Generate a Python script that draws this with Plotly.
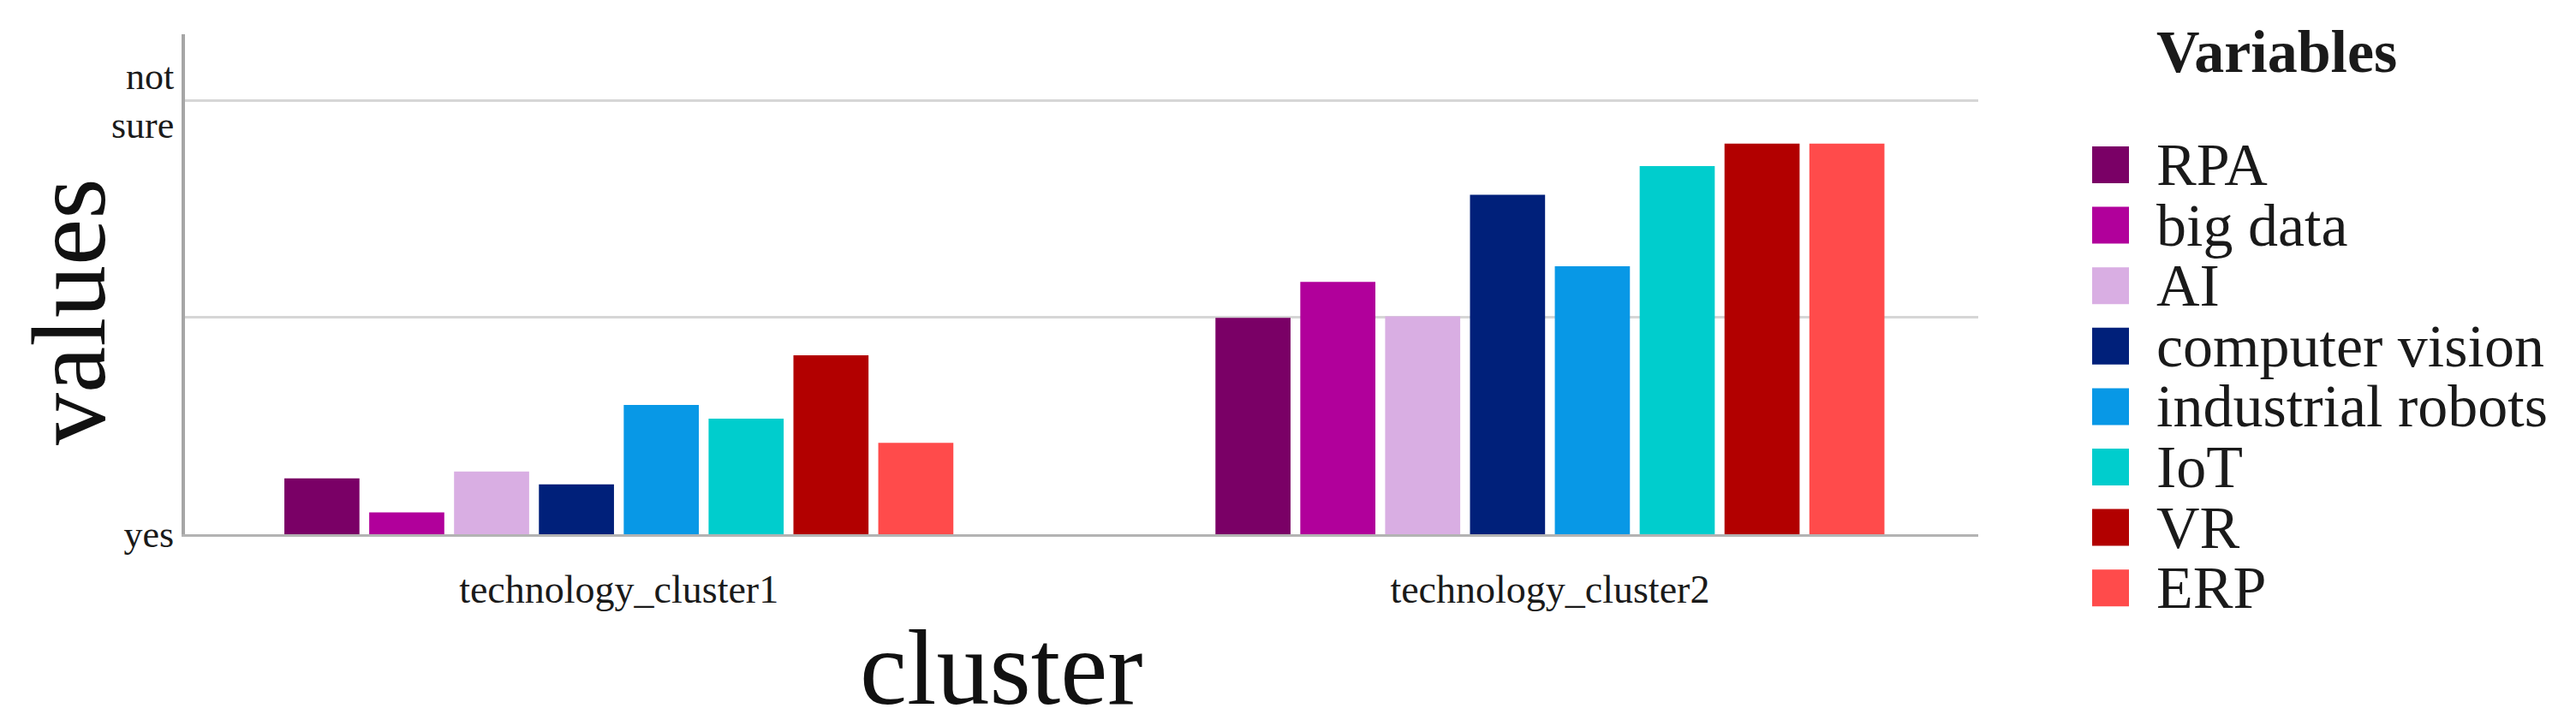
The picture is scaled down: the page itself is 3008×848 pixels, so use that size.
import plotly.graph_objects as go

# ---- data ----
clusters = ["technology_cluster1", "technology_cluster2"]
variables = ["RPA", "big data", "AI", "computer vision",
             "industrial robots", "IoT", "VR", "ERP"]
colors = ["#7a0066", "#b1009b", "#d9aee3", "#00207a",
          "#0898e6", "#00cdcd", "#b20000", "#ff4b4b"]

rpa = [1.257, 1.997]
big_data = [1.101, 2.163]
ai = [1.289, 2.004]
computer_vision = [1.230, 2.564]
industrial_robots = [1.596, 2.235]
iot = [1.533, 2.696]
vr = [1.825, 2.800]
erp = [1.421, 2.800]
series = [rpa, big_data, ai, computer_vision, industrial_robots, iot, vr, erp]

y_tick_values = [1, 2, 3]
y_tick_labels = ["yes", "", "not<br>sure"]
x_title = "cluster"
y_title = "values"
legend_title = "Variables"

# ---- layout geometry (pixels) ----
W, H = 3008, 848
L, R, T, B = 208, 706, 32, 232
PW, PH = W - L - R, H - T - B


def px_x(x):
    return (x - L) / PW


def px_y(y):
    return (H - B - y) / PH


FONT = "Liberation Serif"
TXT = "#1a1a1a"

fig = go.Figure()
for name, vals, col in zip(variables, series, colors):
    fig.add_trace(go.Bar(name=name, x=clusters, y=vals,
                         marker=dict(color=col, line=dict(width=0)),
                         showlegend=False))

# manual legend (large square swatches)
shapes = []
annotations = []
row0, row_step, sw = 184.5, 70.6, 43
for i, (name, col) in enumerate(zip(variables, colors)):
    cy = row0 + i * row_step
    shapes.append(dict(type="rect", xref="paper", yref="paper",
                       x0=px_x(2435), x1=px_x(2478),
                       y0=px_y(cy + sw / 2), y1=px_y(cy - sw / 2),
                       fillcolor=col, line=dict(width=0)))
    annotations.append(dict(text=name, xref="paper", yref="paper",
                            x=px_x(2508), y=px_y(cy), xanchor="left",
                            yanchor="middle", showarrow=False,
                            font=dict(family=FONT, size=70, color=TXT)))
annotations.append(dict(text="<b>" + legend_title + "</b>", xref="paper",
                        yref="paper", x=px_x(2508), y=px_y(53),
                        xanchor="left", yanchor="middle", showarrow=False,
                        font=dict(family=FONT, size=70, color=TXT)))
# axis titles
annotations.append(dict(text=x_title, xref="paper", yref="paper",
                        x=px_x(1161), y=px_y(772), xanchor="center",
                        yanchor="middle", showarrow=False,
                        font=dict(family=FONT, size=124, color="#111111")))
annotations.append(dict(text=y_title, xref="paper", yref="paper",
                        x=px_x(72), y=px_y(356), xanchor="center",
                        yanchor="middle", showarrow=False, textangle=-90,
                        font=dict(family=FONT, size=122, color="#111111")))

fig.update_layout(
    width=W, height=H,
    margin=dict(l=L, r=R, t=T, b=B, autoexpand=False),
    paper_bgcolor="white", plot_bgcolor="white",
    barmode="group", bargap=0.271, bargroupgap=0.115,
    shapes=shapes, annotations=annotations,
    font=dict(family=FONT, color=TXT),
)
fig.update_xaxes(
    type="category", range=[-0.466, 1.46],
    showline=True, linecolor="#b3b3b3", linewidth=3,
    showgrid=False, ticks="", zeroline=False,
    tickfont=dict(family=FONT, size=46, color=TXT),
    ticklabelstandoff=22,
    automargin=False,
)
fig.update_yaxes(
    range=[1, 3.304],
    tickvals=y_tick_values, ticktext=y_tick_labels,
    showline=True, linecolor="#a6a6a6", linewidth=4,
    showgrid=True, gridcolor="#d6d6d6", gridwidth=3,
    zeroline=False, ticks="",
    tickfont=dict(family=FONT, size=44, color=TXT),
    automargin=False,
)

fig.write_html("out.html")
